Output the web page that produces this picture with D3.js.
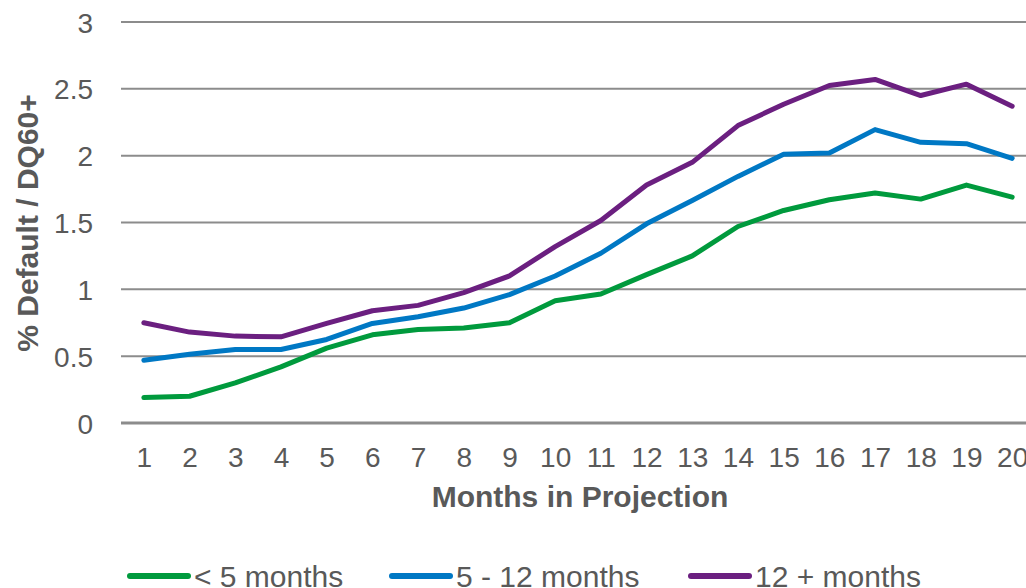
<!DOCTYPE html>
<html>
<head>
<meta charset="utf-8">
<script src="https://cdn.jsdelivr.net/npm/d3@7"></script>
<style>
  html, body { margin: 0; padding: 0; background: #fff; }
  svg { display: block; font-family: "Liberation Sans", Arial, sans-serif; }
</style>
</head>
<body>
<svg id="chart" width="1026" height="588"></svg>
<script>
// Months in projection (x categories)
const months = d3.range(1, 21);

// Cumulative default / DQ60+ rate (%) by time since modification
const lessThan5 = [0.19, 0.20, 0.30, 0.42, 0.56, 0.66, 0.70, 0.71, 0.75, 0.915, 0.965, 1.11, 1.25, 1.47, 1.59, 1.67, 1.72, 1.675, 1.78, 1.69];
const from5to12 = [0.47, 0.515, 0.55, 0.55, 0.625, 0.745, 0.795, 0.86, 0.96, 1.10, 1.27, 1.49, 1.665, 1.845, 2.01, 2.02, 2.195, 2.10, 2.09, 1.98];
const over12 = [0.75, 0.68, 0.65, 0.645, 0.745, 0.84, 0.88, 0.975, 1.10, 1.32, 1.515, 1.78, 1.95, 2.225, 2.385, 2.525, 2.57, 2.45, 2.535, 2.37];

const seriesNames = ["< 5 months", "5 - 12 months", "12 + months"];
const seriesColors = ["#009a3d", "#0078c4", "#6b1f80"];
const yTicks = [0, 0.5, 1, 1.5, 2, 2.5, 3];

const series = [lessThan5, from5to12, over12].map((vals, i) => ({
  name: seriesNames[i],
  color: seriesColors[i],
  values: vals.map((v, j) => ({ m: months[j], v }))
}));

const svg = d3.select("#chart");
const textColor = "#595959";
const gridColor = "#8c8c8c";

const plot = { left: 121, right: 1035, top: 22, bottom: 423 };

const x = d3.scalePoint().domain(months).range([plot.left, plot.right]).padding(0.5);
const y = d3.scaleLinear().domain([0, 3]).range([plot.bottom, plot.top]);

// Horizontal gridlines
svg.append("g")
  .selectAll("line")
  .data(yTicks)
  .join("line")
  .attr("x1", plot.left)
  .attr("x2", plot.right)
  .attr("y1", d => y(d))
  .attr("y2", d => y(d))
  .attr("stroke", gridColor)
  .attr("stroke-width", d => d === 0 ? 3 : 2);

// Y axis labels
const yAxis = d3.axisLeft(y).tickValues(yTicks).tickFormat(d3.format("~g")).tickSize(0).tickPadding(0);
svg.append("g")
  .attr("transform", `translate(93,0)`)
  .call(yAxis)
  .call(g => g.select(".domain").remove())
  .call(g => g.selectAll("text")
    .attr("fill", textColor)
    .attr("font-size", 28)
    .attr("font-family", "Liberation Sans, Arial, sans-serif")
    .attr("dy", "0.36em"));

// X axis labels
const xAxis = d3.axisBottom(x).tickSize(0).tickPadding(0);
svg.append("g")
  .attr("transform", `translate(0,467)`)
  .call(xAxis)
  .call(g => g.select(".domain").remove())
  .call(g => g.selectAll("text")
    .attr("fill", textColor)
    .attr("font-size", 28)
    .attr("font-family", "Liberation Sans, Arial, sans-serif")
    .attr("dy", 0));

// Axis titles
svg.append("text")
  .attr("x", 580)
  .attr("y", 507)
  .attr("text-anchor", "middle")
  .attr("font-weight", "bold")
  .attr("font-size", 30)
  .attr("fill", textColor)
  .text("Months in Projection");

svg.append("text")
  .attr("transform", "translate(38,223) rotate(-90)")
  .attr("text-anchor", "middle")
  .attr("font-weight", "bold")
  .attr("font-size", 30)
  .attr("fill", textColor)
  .text("% Default / DQ60+");

// Series lines
const line = d3.line().x(d => x(d.m)).y(d => y(d.v));
svg.append("g")
  .selectAll("path")
  .data(series)
  .join("path")
  .attr("d", d => line(d.values))
  .attr("fill", "none")
  .attr("stroke", d => d.color)
  .attr("stroke-width", 5)
  .attr("stroke-linejoin", "round")
  .attr("stroke-linecap", "round");

// Legend
const legendX = [127, 389, 688];
const legend = svg.append("g");
legendX.forEach((lx, i) => {
  legend.append("line")
    .attr("x1", lx + 3)
    .attr("x2", lx + 61)
    .attr("y1", 576)
    .attr("y2", 576)
    .attr("stroke", seriesColors[i])
    .attr("stroke-width", 6)
    .attr("stroke-linecap", "round");
  legend.append("text")
    .attr("x", lx + 67)
    .attr("y", 587)
    .attr("font-size", 30)
    .attr("fill", textColor)
    .text(seriesNames[i]);
});
</script>
</body>
</html>
